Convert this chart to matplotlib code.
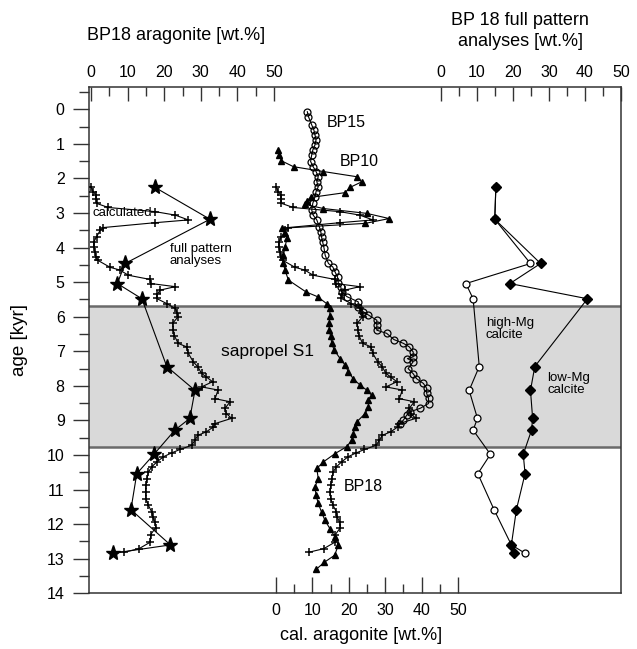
import matplotlib
matplotlib.use("Agg")
import matplotlib.pyplot as plt
import matplotlib.ticker as ticker

plt.rcParams["font.family"] = ["Liberation Sans", "DejaVu Sans"]

# BP18 calculated aragonite (age kyr, wt.%)
bp18_age = [2.24, 2.38, 2.48, 2.58, 2.72, 2.84, 2.96, 3.06, 3.20, 3.28, 3.42, 3.50,
            3.69, 3.83, 3.97, 4.12, 4.26, 4.37, 4.57, 4.65, 4.80, 4.92, 5.04, 5.13,
            5.23, 5.35, 5.47, 5.62, 5.76, 5.90, 6.00, 6.19, 6.39, 6.55, 6.77, 6.87,
            7.06, 7.30, 7.45, 7.64, 7.74, 7.88, 8.03, 8.12, 8.37, 8.46, 8.65, 8.80,
            8.94, 9.09, 9.19, 9.33, 9.43, 9.57, 9.72, 9.84, 9.94, 10.05, 10.20, 10.34,
            10.49, 10.68, 10.87, 11.07, 11.26, 11.46, 11.65, 11.79, 11.95, 12.10, 12.30,
            12.52, 12.71, 12.81]
bp18_val = [0.0, 0.6, 1.4, 1.4, 1.5, 4.7, 17.5, 23.0, 26.6, 17.5, 3.4, 2.5,
            1.5, 0.8, 0.7, 1.1, 1.3, 1.9, 5.2, 7.9, 10.2, 16.1, 16.4, 23.0,
            18.9, 18.1, 17.9, 20.7, 23.0, 23.6, 23.8, 22.3, 22.5, 22.8, 23.8, 26.1,
            26.6, 27.9, 29.2, 30.2, 31.5, 33.2, 30.2, 34.7, 33.9, 38.0, 36.6, 37.0,
            38.4, 33.9, 33.4, 31.5, 29.2, 28.4, 27.5, 24.3, 22.0, 19.8, 18.0, 16.6,
            15.7, 15.3, 15.0, 14.9, 15.0, 15.7, 16.6, 16.8, 17.5, 17.7, 16.3,
            16.2, 13.1, 9.1]

# BP15 calculated aragonite
bp15_age = [0.07, 0.21, 0.45, 0.60, 0.74, 0.88, 1.03, 1.18, 1.32, 1.51, 1.66, 1.80,
            1.95, 2.09, 2.24, 2.38, 2.53, 2.72, 2.91, 3.06, 3.20, 3.40, 3.54, 3.69,
            3.83, 4.02, 4.22, 4.46, 4.56, 4.70, 4.85, 5.02, 5.14, 5.28, 5.42, 5.57,
            5.71, 5.86, 5.95, 6.10, 6.24, 6.39, 6.48, 6.66, 6.77, 6.87, 7.02, 7.16,
            7.21, 7.30, 7.50, 7.65, 7.79, 7.93, 8.07, 8.22, 8.36, 8.51, 8.65, 8.75,
            8.85, 8.99, 9.09]
bp15_val = [8.6, 8.9, 9.8, 10.4, 10.7, 11.0, 10.7, 10.1, 9.8, 9.5, 10.2, 11.0,
            11.6, 11.2, 11.6, 11.0, 10.7, 10.1, 9.8, 10.2, 11.2, 11.9, 12.3, 12.5,
            12.8, 13.2, 13.5, 14.4, 15.6, 16.2, 16.9, 17.1, 17.8, 18.0, 19.5, 22.6,
            22.6, 24.0, 25.4, 27.7, 27.7, 27.7, 30.4, 32.4, 35.0, 36.6, 37.7, 37.7,
            36.1, 37.7, 36.3, 37.7, 38.6, 40.5, 41.4, 41.4, 41.9, 41.9, 39.6, 36.8,
            35.9, 35.0, 34.1]

# BP10 calculated aragonite
bp10_age = [1.18, 1.32, 1.49, 1.66, 1.80, 1.95, 2.10, 2.26, 2.41, 2.55, 2.65, 2.75,
            2.87, 3.01, 3.16, 3.30, 3.44, 3.59, 3.73, 3.97, 4.22, 4.46, 4.66, 4.94,
            5.28, 5.42, 5.62, 5.76, 5.99, 6.18, 6.37, 6.57, 6.76, 6.95, 7.21, 7.40,
            7.60, 7.79, 7.98, 8.12, 8.27, 8.41, 8.60, 8.80, 9.04, 9.19, 9.38, 9.57,
            9.76, 9.96, 10.20, 10.39, 10.68, 10.92, 11.16, 11.40, 11.65, 11.88, 12.13,
            12.37, 12.61, 12.90, 13.10, 13.30]
bp10_val = [0.6, 0.9, 1.5, 4.8, 13.0, 22.2, 23.5, 20.3, 19.0, 9.5, 8.5, 8.0,
            13.0, 24.9, 31.1, 24.5, 1.6, 2.5, 3.0, 2.5, 2.0, 2.0, 2.5, 3.4,
            8.2, 11.4, 13.9, 14.8, 14.8, 14.6, 14.6, 15.0, 15.3, 15.9, 17.6, 19.0,
            19.9, 21.2, 23.1, 24.9, 26.3, 25.4, 25.4, 24.5, 22.2, 21.7, 21.2, 20.8,
            19.4, 16.2, 13.0, 11.2, 11.6, 10.7, 11.0, 11.6, 12.5, 13.4, 14.8,
            16.2, 17.1, 16.1, 13.3, 11.1]

# BP18 full pattern analyses
fp_age = [2.26, 3.18, 4.46, 5.04, 5.48, 7.44, 8.13, 8.94, 9.28, 9.98, 10.54, 11.58, 12.60, 12.84]
fp_aragonite = [17.5, 32.5, 9.3, 7.2, 13.9, 20.7, 28.4, 27.0, 22.9, 17.2, 12.5, 10.9, 21.7, 6.1]
fp_high_mg = [15.3, 15.0, 24.9, 7.0, 9.0, 10.7, 7.9, 10.2, 9.0, 13.8, 10.3, 14.8, 19.6, 23.4]
fp_low_mg = [15.3, 15.0, 27.7, 19.2, 40.7, 26.1, 24.9, 25.5, 25.2, 22.9, 23.4, 21.0, 19.6, 20.4]

sapropel = (5.69, 9.77)
wt_ticks = [0, 10, 20, 30, 40, 50]
wt_minor = [5, 15, 25, 35, 45]

fig = plt.figure(figsize=(6.37, 6.49), dpi=100)
ax = fig.add_axes([89 / 637, 1 - 593.3 / 649, 532 / 637, (593.3 - 86.7) / 649])

ax_l = ax.twiny()
ax_m = ax.twiny()
ax_r = ax.twiny()

ax.set_ylim(14, -0.654)
ax.yaxis.set_major_locator(ticker.MultipleLocator(1))
ax.yaxis.set_minor_locator(ticker.MultipleLocator(0.5))
ax.tick_params(axis="y", which="major", direction="out", length=11.5, width=1.0,
               color="#333333", labelsize=11.5, pad=6)
ax.tick_params(axis="y", which="minor", direction="out", length=7, width=1.0, color="#333333")
ax.tick_params(axis="x", bottom=False, top=False, labelbottom=False, labeltop=False)
ax.set_xlim(0, 1)
for s in ax.spines.values():
    s.set_color("#333333")
    s.set_linewidth(1.1)

# sapropel band
ax.axhspan(*sapropel, color="#d9d9d9", zorder=0, lw=0)
for y in sapropel:
    ax.axhline(y, color="#6a6a6a", lw=1.8, zorder=1)

# panel x scales: left (BP18 aragonite), middle (cal. aragonite), right (full pattern)
ax_l.set_xlim(-0.55, 144.8)
ax_m.set_xlim(-51.4, 94.8)
ax_r.set_xlim(-97.5, 50.0)

for a in (ax_l, ax_m, ax_r):
    for s in a.spines.values():
        s.set_visible(False)
    a.set_xticks(wt_ticks)
    a.set_xticks(wt_minor, minor=True)

for a in (ax_l, ax_r):
    a.tick_params(axis="x", which="both", direction="in", top=True, bottom=False,
                  labeltop=True, labelbottom=False, width=1.0, color="#333333")
    a.tick_params(axis="x", which="major", length=10, labelsize=11.5, pad=5)
    a.tick_params(axis="x", which="minor", length=6.5)

ax_m.xaxis.tick_bottom()
ax_m.xaxis.set_label_position("bottom")
ax_m.tick_params(axis="x", which="both", direction="in", bottom=True, top=False,
                 labelbottom=True, labeltop=False, width=1.0, color="#333333")
ax_m.tick_params(axis="x", which="major", length=11.5, labelsize=11.5, pad=7)
ax_m.tick_params(axis="x", which="minor", length=6.5)

lw = 0.8
# left panel
ax_l.plot(bp18_val, bp18_age, color="black", lw=lw, marker="+", ms=6, mew=1.1)
ax_l.plot(fp_aragonite, fp_age, color="black", lw=lw, marker="*", ms=11)

# middle panel
ax_m.plot(bp15_val, bp15_age, color="black", lw=lw, marker="o", ms=5,
          mfc="none", mew=0.9)
ax_m.plot(bp10_val, bp10_age, color="black", lw=lw, marker="^", ms=4.5)
ax_m.plot(bp18_val, bp18_age, color="black", lw=lw, marker="+", ms=6, mew=1.1)

# right panel
ax_r.plot(fp_high_mg, fp_age, color="black", lw=lw, marker="o", ms=5,
          mfc="white", mew=0.9)
ax_r.plot(fp_low_mg, fp_age, color="black", lw=lw, marker="D", ms=5.5)

# annotations
ax_l.text(0.5, 3.0, "calculated", fontsize=9.5, va="center", ha="left")
ax_l.text(21.5, 4.2, "full pattern\nanalyses", fontsize=9.5, va="center", ha="left",
          linespacing=1.0)
ax_l.text(35.5, 7.0, "sapropel S1", fontsize=12.5, va="center", ha="left")
ax_m.text(14, 0.37, "BP15", fontsize=11.5, va="center", ha="left")
ax_m.text(17.5, 1.5, "BP10", fontsize=11.5, va="center", ha="left")
ax_m.text(18.5, 10.92, "BP18", fontsize=11.5, va="center", ha="left")
ax_r.text(12.5, 6.35, "high-Mg\ncalcite", fontsize=9.5, va="center", ha="left",
          linespacing=1.0)
ax_r.text(29.5, 7.95, "low-Mg\ncalcite", fontsize=9.5, va="center", ha="left",
          linespacing=1.0)

# axis titles
fig.text(176 / 637, 1 - 36 / 649, "BP18 aragonite [wt.%]", fontsize=13,
         ha="center", va="center")
fig.text(520 / 637, 1 - 31 / 649, "BP 18 full pattern\nanalyses [wt.%]", fontsize=13,
         ha="center", va="center", linespacing=1.3)
fig.text(361 / 637, 1 - 636 / 649, "cal. aragonite [wt.%]", fontsize=13,
         ha="center", va="center")
fig.text(20 / 637, 1 - 340 / 649, "age [kyr]", fontsize=13.5, rotation=90,
         ha="center", va="center")

fig.savefig("out.png", dpi=100)
plt.close(fig)
